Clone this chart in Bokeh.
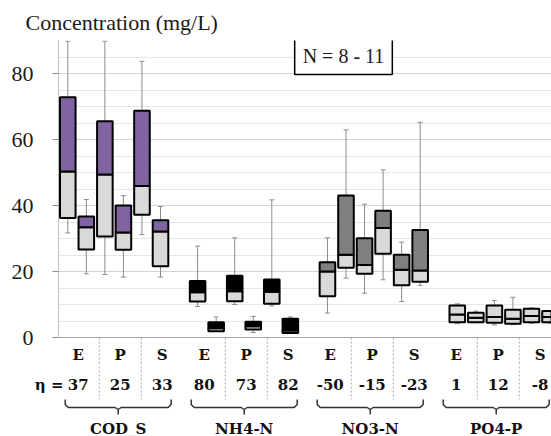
from bokeh.plotting import figure
from bokeh.models import Range1d, FixedTicker, Span, Label, ColumnDataSource
from bokeh.layouts import column
from bokeh.embed import file_html
from bokeh.resources import INLINE
from bokeh.core.properties import value

# ---------------- data ----------------
params = ["COD_S", "NH4-N", "NO3-N", "PO4-P"]
sites = ["E", "P", "S"]
eta = ["37", "25", "33", "80", "73", "82", "-50", "-15", "-23", "1", "12", "-8"]
upper_colors = ["#8064a2", "#000000", "#7f7f7f", "#d9d9d9"]
lower_color = "#d9d9d9"

# 24 boxes: for each parameter, for each site, two boxes
w_min = [31.7, 19.3, 19.1, 18.3, 31.2, 18.3,
         9.4, 1.9, 10.0, 1.5, 9.6, 1.4,
         7.4, 18.0, 13.4, 17.5, 10.9, 15.8,
         4.2, 4.5, 3.8, 3.9, 4.3, 4.3]
q1 = [36.2, 26.7, 30.6, 26.6, 37.2, 21.6,
      10.9, 1.9, 11.0, 2.4, 10.2, 1.4,
      12.5, 21.1, 19.3, 25.4, 15.8, 16.9,
      4.6, 4.6, 4.5, 4.2, 4.6, 4.6]
med = [50.3, 33.4, 49.4, 31.8, 45.9, 32.1,
       13.7, 2.8, 14.0, 3.4, 13.9, 2.1,
       20.0, 25.1, 22.0, 33.2, 20.5, 20.3,
       7.0, 6.0, 6.2, 5.7, 6.5, 6.2]
q3 = [72.8, 36.7, 65.5, 40.0, 68.7, 35.5,
      17.1, 4.6, 18.7, 4.8, 17.6, 5.7,
      22.8, 43.0, 30.1, 38.4, 25.1, 32.6,
      9.7, 7.5, 9.7, 8.4, 8.7, 8.0]
w_max = [89.8, 41.8, 89.8, 43.0, 83.7, 39.7,
         27.7, 6.2, 30.2, 6.4, 41.7, 6.2,
         30.2, 62.9, 40.4, 50.8, 28.9, 65.2,
         10.2, 8.0, 11.2, 12.2, 9.0, 8.2]
y_ticks = [0, 20, 40, 60, 80]
n_text = "N = 8 - 11"

# ---------------- geometry ----------------
W, HTOT = 551, 436
LEFT, TOP = 58, 40
H1 = 366                                  # upper figure (chart + site row)
X0, X1 = -0.5, 26.08
PX_PER_SLOT = (W - LEFT) / (X1 - X0)
PX_PER_Y = 3.3
Y1 = 90.0
Y0 = Y1 - (H1 - TOP) / PX_PER_Y

def sx(page_x):
    return X0 + (page_x - LEFT) / PX_PER_SLOT

def sy(page_y):
    return Y1 - (page_y - TOP) / PX_PER_Y

slots, colors = [], []
for pi in range(len(params)):
    for si in range(len(sites)):
        for b in range(2):
            slots.append(pi * 7 + si * 2 + b)
            colors.append(upper_colors[pi])

src = ColumnDataSource(dict(x=slots, wmin=w_min, q1=q1, med=med, q3=q3,
                            wmax=w_max, col=colors))

SERIF = "Liberation Serif"
BOLD = "DejaVu Serif"
txt = dict(text_font=value(BOLD), text_font_style="bold", text_font_size="15px",
           text_baseline="middle", text_color="#111111")

p = figure(width=W, height=H1, output_backend="svg", toolbar_location=None,
           x_range=Range1d(X0, X1), y_range=Range1d(Y0, Y1),
           min_border_left=LEFT, min_border_right=0, min_border_bottom=0,
           min_border_top=TOP)
p.frame_align = False
p.xaxis.visible = False
p.xgrid.visible = False
p.outline_line_color = None

p.yaxis.ticker = FixedTicker(ticks=y_ticks, minor_ticks=list(range(0, 91, 5)))
p.yaxis.bounds = (0, 90)
p.yaxis.axis_line_color = "#bfbfbf"
p.yaxis.major_tick_line_color = "#8c8c8c"
p.yaxis.major_tick_out = 6
p.yaxis.major_tick_in = 0
p.yaxis.minor_tick_line_color = None
p.yaxis.major_label_standoff = 19
p.yaxis.major_label_text_font = SERIF
p.yaxis.major_label_text_font_size = "22px"
p.yaxis.major_label_text_color = "#1a1a1a"
p.ygrid.grid_line_color = "#d4d4d4"
p.ygrid.minor_grid_line_color = "#e6e6e6"

p.title.text = "Concentration (mg/L)"
p.title.align = "left"
p.title.offset = -33
p.title.text_font = SERIF
p.title.text_font_size = "22px"
p.title.text_font_style = "normal"
p.title.text_color = "#1a1a1a"
p.title.standoff = 11

p.add_layout(Span(location=0, dimension="width", line_color="#a6a6a6", line_width=1))

# whiskers
p.segment(x0="x", y0="wmin", x1="x", y1="wmax", source=src, line_color="#8c8c8c", line_width=1)
p.scatter(x="x", y="wmax", source=src, marker="dash", size=5, line_color="#8c8c8c", line_width=1)
p.scatter(x="x", y="wmin", source=src, marker="dash", size=5, line_color="#8c8c8c", line_width=1)
# boxes
p.vbar(x="x", bottom="q1", top="med", width=0.84, source=src, fill_color=lower_color,
       line_color="black", line_width=2)
p.vbar(x="x", bottom="med", top="q3", width=0.84, source=src, fill_color="col",
       line_color="black", line_width=2)

p.add_layout(Label(x=sx(343), y=sy(55), text=n_text, text_align="center", text_baseline="middle",
                   text_font=SERIF, text_font_size="20px", text_color="#1a1a1a",
                   border_line_color="black", border_line_width=1.5,
                   background_fill_color="white", padding=8))

# ---------------- table columns ----------------
COL0, PITCH = 56.7, 42.0
ncol = len(params) * len(sites)
col_px = [COL0 + PITCH * (i + 0.5) for i in range(ncol)]
site_lbl = [sites[i % 3] for i in range(ncol)]
sep_px = [COL0 + PITCH * k for k in range(1, ncol) if k % 3 != 0]

# site row and upper part of separators live in the chart figure
p.text(x=[sx(v) for v in col_px], y=[sy(354)] * ncol, text=site_lbl, text_align="center", **txt)
p.segment(x0=[sx(v) for v in sep_px], y0=[0] * len(sep_px),
          x1=[sx(v) for v in sep_px], y1=[Y0] * len(sep_px),
          line_color="#a6a6a6", line_dash="2 2", line_width=1)

# ---------------- lower table (page-pixel coordinates) ----------------
H2 = HTOT - H1
t = figure(width=W, height=H2, output_backend="svg", toolbar_location=None,
           x_range=Range1d(0, W), y_range=Range1d(HTOT, H1),
           x_axis_type=None, y_axis_type=None,
           min_border_left=0, min_border_right=0, min_border_top=0, min_border_bottom=0)
t.frame_align = False
t.outline_line_color = None
t.xgrid.visible = False
t.ygrid.visible = False

t.segment(x0=sep_px, y0=[H1] * len(sep_px), x1=sep_px, y1=[399] * len(sep_px),
          line_color="#a6a6a6", line_dash="2 2", line_width=1)
t.text(x=col_px, y=[384] * ncol, text=eta, text_align="center", **txt)
t.text(x=[63], y=[384], text=["η ="], text_align="right", **txt)

bx, by, g_centers = [], [], []
for g in range(len(params)):
    c = COL0 + PITCH * (3 * g + 1.5) - 2
    g_centers.append(c)
    L, R = c - 53, c + 53
    bx.append([L, L, L + 3, c - 3, c, c])
    by.append([399, 404, 407, 407, 409, 414])
    bx.append([R, R, R - 3, c + 3, c])
    by.append([399, 404, 407, 407, 409])
t.multi_line(xs=bx, ys=by, line_color="#333333", line_width=1.5)
t.text(x=g_centers, y=[428] * len(params), text=params, text_align="center", **txt)

layout = column(p, t, spacing=0)
open("out.html", "w").write(file_html(layout, INLINE))
